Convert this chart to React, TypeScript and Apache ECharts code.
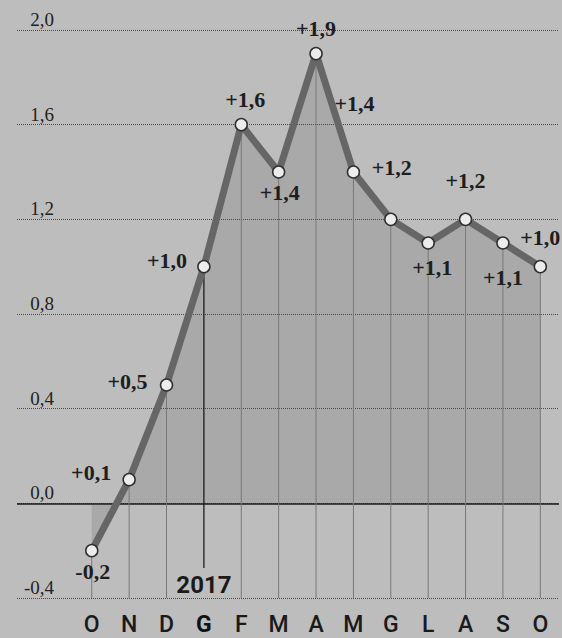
import React, { useEffect, useRef } from "react";
import * as echarts from "echarts";

const categories = ["O", "N", "D", "G", "F", "M", "A", "M", "G", "L", "A", "S", "O"];
const values = [-0.2, 0.1, 0.5, 1.0, 1.6, 1.4, 1.9, 1.4, 1.2, 1.1, 1.2, 1.1, 1.0];
const yearLabel = "2017";
const yearIndex = 3;
const yMin = -0.4;
const yMax = 2.0;
const yStep = 0.4;

// label placement (pixels relative to each point)
const labelOffsets: number[][] = [
  [1, 21], [-38, -7], [-39, -4], [-37, -6], [4, -25], [1, 20], [0, -25],
  [1, -69], [1, -52], [4, 24], [0, -39], [0, 34], [0, -29],
];

const fmt = (v: number) => (v > 0 ? "+" : "") + v.toFixed(1).replace(".", ",");

export default function App() {
  const ref = useRef<HTMLDivElement>(null);
  useEffect(() => {
    if (!ref.current) return;
    const chart = echarts.init(ref.current, undefined, { renderer: "svg" });
    const pts = values.map((v, i) => [i, v]);
    chart.setOption({
      animation: false,
      backgroundColor: "#bdbdbd",
      grid: { left: 17, right: 2, top: 30, bottom: 40 },
      xAxis: {
        type: "value",
        min: -2,
        max: 12.5,
        interval: 1,
        splitLine: { show: false },
        axisLine: { show: false },
        axisTick: { show: false },
        axisLabel: {
          margin: 15,
          fontFamily: "Roboto",
          fontSize: 23,
          fontWeight: 500,
          color: "#1a1a1a",
          formatter: (v: number) => {
            if (!Number.isInteger(v) || v < 0 || v >= categories.length) return "";
            return v === yearIndex ? `{b|${categories[v]}}` : categories[v];
          },
          rich: {
            b: { fontFamily: "Roboto", fontSize: 23, fontWeight: "bold", color: "#111" },
          },
        },
      },
      yAxis: {
        type: "value",
        min: yMin,
        max: yMax,
        interval: yStep,
        axisLine: { show: false },
        axisTick: { show: false },
        splitLine: { lineStyle: { type: "dotted", color: "#4a4a4a", width: 1 } },
        axisLabel: {
          inside: true,
          margin: 37,
          align: "right",
          verticalAlign: "bottom",
          padding: [0, 0, 1, 0],
          fontFamily: "Liberation Serif",
          fontSize: 19,
          color: "#222",
          formatter: (v: number) => v.toFixed(1).replace(".", ","),
        },
      },
      series: [
        {
          type: "line",
          z: 1,
          data: pts,
          symbol: "none",
          lineStyle: { width: 0 },
          areaStyle: { color: "rgba(70,70,70,0.17)", opacity: 1 },
          silent: true,
          markLine: {
            silent: true,
            symbol: "none",
            z: 1,
            label: { show: false },
            lineStyle: { color: "#1a1a1a", width: 1.5, type: "solid" },
            data: [{ yAxis: 0 }],
          },
        },
        {
          type: "custom",
          z: 2,
          silent: true,
          data: pts,
          encode: { x: 0, y: 1 },
          renderItem: (params: any, api: any) => {
            const i = api.value(0);
            const v = api.value(1);
            const p1 = api.coord([i, v]);
            const p2 = api.coord([i, yMin]);
            if (i === yearIndex) {
              return {
                type: "group",
                children: [
                  {
                    type: "line",
                    shape: { x1: p1[0], y1: p1[1], x2: p2[0], y2: p2[1] - 30 },
                    style: { stroke: "#111", lineWidth: 1.2 },
                  },
                  {
                    type: "text",
                    x: p2[0],
                    y: p2[1] - 13,
                    style: {
                      text: yearLabel,
                      align: "center",
                      verticalAlign: "middle",
                      fontFamily: "Roboto",
                      fontWeight: "bold",
                      fontSize: 24,
                      fill: "#1a1a1a",
                    },
                  },
                ],
              };
            }
            return {
              type: "line",
              shape: { x1: p1[0], y1: p1[1], x2: p2[0], y2: p2[1] },
              style: { stroke: "#7a7a7a", lineWidth: 1 },
            };
          },
        },
        {
          type: "line",
          z: 3,
          data: pts.map((p, i) => ({ value: p, label: { offset: labelOffsets[i] } })),
          symbol: "circle",
          symbolSize: 12,
          itemStyle: { color: "#ececec", borderColor: "#2e2e2e", borderWidth: 1.5 },
          lineStyle: { color: "#666666", width: 7 },
          label: {
            show: true,
            position: "inside",
            fontFamily: "Liberation Serif",
            fontWeight: "bold",
            fontSize: 22,
            color: "#1e1e1e",
            formatter: (p: any) => fmt(p.value[1]),
          },
        },
      ],
    });
    return () => chart.dispose();
  }, []);
  return (
    <div
      ref={ref}
      style={{ position: "absolute", left: 0, top: 0, width: 562, height: 638 }}
    />
  );
}
